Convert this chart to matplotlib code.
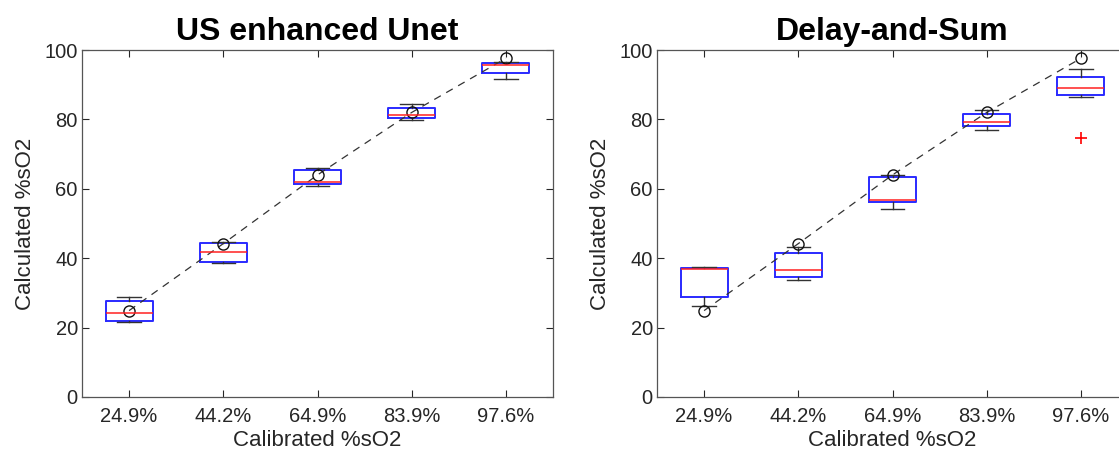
import matplotlib
matplotlib.use("Agg")
import matplotlib.pyplot as plt

plt.rcParams["font.family"] = ["Liberation Sans", "DejaVu Sans"]

# Calibrated sO2 levels (x categories) and reference marker values
tick_labels = ["24.9%", "44.2%", "64.9%", "83.9%", "97.6%"]
reference_vals = [24.9, 44.2, 64.0, 82.0, 97.6]

# US enhanced Unet: box statistics per calibrated level
unet_q1 = [21.9, 38.9, 61.3, 80.4, 93.45]
unet_med = [24.1, 41.8, 61.95, 81.4, 95.6]
unet_q3 = [27.65, 44.4, 65.5, 83.3, 96.3]
unet_lo = [21.5, 38.5, 60.8, 79.8, 91.7]
unet_hi = [28.8, 44.8, 65.9, 84.4, 96.6]
unet_fliers = [[], [], [], [], []]

# Delay-and-Sum: box statistics per calibrated level
das_q1 = [28.75, 34.5, 56.1, 78.0, 87.0]
das_med = [37.0, 36.7, 56.9, 79.2, 89.0]
das_q3 = [37.2, 41.6, 63.3, 81.6, 92.3]
das_lo = [26.25, 33.6, 54.2, 77.0, 86.5]
das_hi = [37.5, 43.2, 63.9, 82.8, 94.6]
das_fliers = [[], [], [], [], [74.6]]

AX_GRAY = "#262626"


def box_stats(q1, med, q3, lo, hi, fliers):
    return [dict(q1=a, med=b, q3=c, whislo=d, whishi=e, fliers=f)
            for a, b, c, d, e, f in zip(q1, med, q3, lo, hi, fliers)]


def draw_panel(ax, stats, title):
    pos = list(range(1, len(tick_labels) + 1))
    ax.bxp(stats, positions=pos, widths=0.5, patch_artist=False,
           boxprops=dict(color="#2a2aff", linewidth=1.4),
           medianprops=dict(color="#ff2020", linewidth=1.1),
           whiskerprops=dict(color="#333333", linewidth=1.0),
           capprops=dict(color="#333333", linewidth=1.0),
           capwidths=0.25,
           flierprops=dict(marker="+", markeredgecolor="red",
                           markersize=8, markeredgewidth=1.2,
                           linestyle="none"))
    # reference sO2 markers joined by a dashed guide
    ax.plot(pos, reference_vals, color="#333333", linestyle=(0, (6, 5)),
            linewidth=0.9, marker="o", markersize=8,
            markerfacecolor="none", markeredgecolor="#111111",
            markeredgewidth=1.0)

    ax.set_xlim(0.5, 5.5)
    ax.set_ylim(0, 100)
    ax.set_xticks(pos)
    ax.set_xticklabels(tick_labels)
    ax.set_yticks([0, 20, 40, 60, 80, 100])
    ax.tick_params(direction="in", top=True, right=True, length=5,
                   width=0.8, color=AX_GRAY, labelcolor=AX_GRAY,
                   labelsize=14.5)
    ax.tick_params(axis="x", pad=7)
    ax.tick_params(axis="y", pad=3)
    for sp in ax.spines.values():
        sp.set_color("#555555")
        sp.set_linewidth(0.9)

    ax.set_xlabel("Calibrated %sO2", fontsize=16, color=AX_GRAY, labelpad=3)
    ax.set_ylabel("Calculated %sO2", fontsize=16, color=AX_GRAY, labelpad=6)
    ax.set_title(title, fontsize=23, fontweight="bold", pad=7)


fig = plt.figure(figsize=(11.19, 4.54), dpi=100)
ax1 = fig.add_axes([82 / 1119, 57 / 454, 471 / 1119, 347 / 454])
ax2 = fig.add_axes([657 / 1119, 57 / 454, 471 / 1119, 347 / 454])

draw_panel(ax1, box_stats(unet_q1, unet_med, unet_q3, unet_lo, unet_hi,
                          unet_fliers), "US enhanced Unet")
draw_panel(ax2, box_stats(das_q1, das_med, das_q3, das_lo, das_hi,
                          das_fliers), "Delay-and-Sum")

fig.savefig("out.png", dpi=100)
